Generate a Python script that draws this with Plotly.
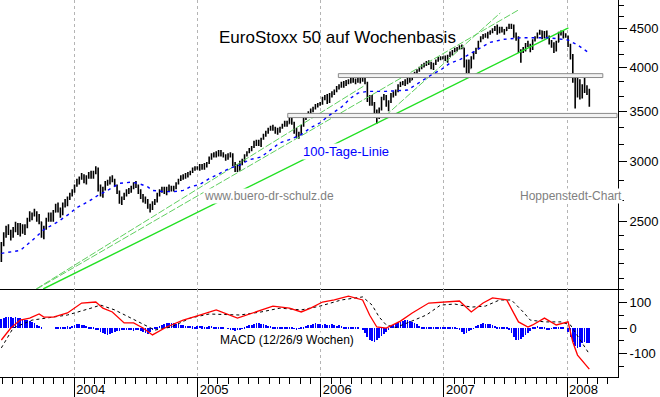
import math
import pandas as pd
import plotly.graph_objects as go
from plotly.subplots import make_subplots

# ---------------- DATA ----------------
week_start = "2003-05-30"          # first weekly bar (Friday)
first_open = 2280

close_2003 = [2330, 2400, 2440, 2420, 2390, 2440, 2480, 2420, 2470, 2440, 2460, 2510, 2540, 2560, 2570, 2530,
              2500, 2400, 2450, 2520, 2550, 2530, 2575, 2620, 2590, 2560, 2630, 2650, 2680, 2710, 2740]
high_2003 = [2350, 2420, 2470, 2480, 2440, 2460, 2500, 2490, 2490, 2480, 2480, 2530, 2580, 2570, 2600, 2580,
             2560, 2500, 2470, 2530, 2570, 2570, 2590, 2640, 2650, 2610, 2650, 2680, 2700, 2730, 2760]
low_2003 = [2210, 2320, 2380, 2400, 2360, 2380, 2420, 2400, 2390, 2410, 2400, 2450, 2500, 2510, 2540, 2500,
            2480, 2380, 2370, 2440, 2500, 2500, 2500, 2570, 2570, 2530, 2550, 2610, 2620, 2670, 2700]

close_2004 = [2790, 2830, 2860, 2880, 2840, 2860, 2890, 2870, 2900, 2940, 2780, 2720, 2760, 2810, 2830, 2860,
              2840, 2790, 2740, 2660, 2680, 2720, 2750, 2740, 2770, 2800, 2790, 2740, 2700, 2690, 2670, 2620,
              2600, 2640, 2660, 2720, 2750, 2770, 2740, 2760, 2780, 2760, 2770, 2810, 2840, 2870, 2860, 2880,
              2890, 2910, 2940, 2950, 2950]
high_2004 = [2800, 2850, 2870, 2900, 2890, 2880, 2910, 2920, 2920, 2960, 2950, 2800, 2780, 2830, 2840, 2870,
             2880, 2850, 2800, 2750, 2700, 2730, 2760, 2770, 2790, 2820, 2830, 2800, 2760, 2720, 2700, 2680,
             2640, 2660, 2680, 2730, 2760, 2780, 2780, 2780, 2800, 2790, 2790, 2820, 2850, 2880, 2890, 2900,
             2910, 2920, 2950, 2960, 2960]
low_2004 = [2730, 2780, 2800, 2840, 2810, 2800, 2850, 2850, 2850, 2890, 2740, 2700, 2690, 2750, 2790, 2800,
            2820, 2780, 2720, 2640, 2630, 2670, 2700, 2720, 2730, 2760, 2770, 2720, 2680, 2650, 2640, 2600,
            2570, 2590, 2630, 2650, 2700, 2730, 2720, 2710, 2740, 2740, 2740, 2760, 2800, 2830, 2840, 2850,
            2860, 2880, 2900, 2920, 2930]

close_2005 = [2960, 2950, 2970, 2990, 3030, 3060, 3080, 3070, 3090, 3070, 3060, 3040, 3060, 3070, 2980, 2960,
              2930, 3000, 3010, 3060, 3090, 3110, 3140, 3180, 3170, 3200, 3220, 3260, 3280, 3320, 3330, 3330,
              3290, 3300, 3330, 3360, 3380, 3370, 3430, 3380, 3300, 3270, 3260, 3350, 3430, 3460, 3490, 3510,
              3540, 3560, 3580, 3580]
high_2005 = [2980, 2980, 2990, 3000, 3050, 3080, 3090, 3100, 3110, 3110, 3090, 3070, 3080, 3090, 3080, 3000,
             2980, 3010, 3030, 3070, 3100, 3130, 3150, 3200, 3210, 3210, 3230, 3270, 3300, 3330, 3350, 3360,
             3340, 3330, 3340, 3370, 3400, 3400, 3440, 3440, 3390, 3330, 3290, 3360, 3440, 3470, 3500, 3530,
             3550, 3580, 3590, 3600]
low_2005 = [2920, 2930, 2930, 2950, 2980, 3020, 3040, 3040, 3050, 3050, 3040, 3010, 3020, 3040, 2960, 2910,
            2910, 2920, 2970, 3000, 3050, 3080, 3100, 3130, 3150, 3150, 3140, 3210, 3240, 3270, 3300, 3300,
            3270, 3260, 3280, 3320, 3340, 3340, 3370, 3360, 3270, 3230, 3220, 3260, 3340, 3410, 3450, 3460,
            3490, 3520, 3540, 3560]

close_2006 = [3650, 3660, 3600, 3680, 3700, 3720, 3770, 3780, 3820, 3790, 3830, 3850, 3850, 3860, 3840, 3860,
              3840, 3880, 3820, 3640, 3650, 3580, 3470, 3450, 3520, 3650, 3660, 3580, 3600, 3680, 3700, 3720,
              3790, 3810, 3830, 3830, 3860, 3850, 3900, 3940, 3960, 4000, 4020, 4040, 4060, 4050, 4000, 4040,
              4080, 4110, 4120, 4120]
high_2006 = [3660, 3680, 3690, 3700, 3720, 3740, 3780, 3800, 3830, 3840, 3850, 3860, 3880, 3880, 3870, 3880,
             3880, 3900, 3900, 3830, 3680, 3680, 3600, 3520, 3540, 3660, 3690, 3680, 3620, 3700, 3720, 3740,
             3800, 3830, 3840, 3860, 3880, 3890, 3910, 3950, 3980, 4010, 4040, 4060, 4080, 4090, 4070, 4060,
             4100, 4130, 4140, 4140]
low_2006 = [3570, 3620, 3580, 3590, 3650, 3680, 3710, 3740, 3760, 3760, 3780, 3800, 3810, 3820, 3800, 3820,
            3810, 3830, 3800, 3600, 3560, 3560, 3430, 3370, 3420, 3510, 3620, 3550, 3500, 3590, 3650, 3670,
            3710, 3770, 3790, 3780, 3800, 3820, 3850, 3890, 3920, 3950, 3980, 4000, 4020, 4030, 3980, 3970,
            4030, 4070, 4090, 4100]

close_2007 = [4090, 4150, 4180, 4200, 4230, 4240, 4270, 4250, 4050, 4060, 3990, 4120, 4180, 4240, 4330, 4390,
              4410, 4420, 4440, 4470, 4490, 4520, 4450, 4510, 4470, 4480, 4520, 4550, 4540, 4400, 4370, 4200,
              4210, 4240, 4300, 4280, 4240, 4340, 4380, 4440, 4470, 4380, 4460, 4400, 4320, 4300, 4210, 4320,
              4440, 4460, 4420, 4400]
high_2007 = [4150, 4160, 4200, 4220, 4250, 4260, 4280, 4290, 4250, 4100, 4100, 4140, 4200, 4250, 4340, 4400,
             4430, 4440, 4460, 4480, 4510, 4540, 4560, 4530, 4530, 4500, 4530, 4570, 4570, 4560, 4450, 4400,
             4230, 4260, 4310, 4340, 4300, 4360, 4400, 4450, 4490, 4480, 4470, 4480, 4410, 4350, 4320, 4340,
             4460, 4480, 4470, 4440]
low_2007 = [4080, 4060, 4130, 4150, 4190, 4200, 4220, 4230, 4000, 3930, 3930, 3990, 4100, 4170, 4230, 4320,
            4360, 4380, 4370, 4420, 4440, 4470, 4420, 4440, 4450, 4420, 4470, 4500, 4500, 4380, 4340, 4180,
            4060, 4180, 4200, 4260, 4190, 4220, 4330, 4370, 4420, 4360, 4370, 4370, 4290, 4250, 4180, 4200,
            4320, 4410, 4370, 4380]

close_2008 = [4280, 4150, 3860, 3770, 3830, 3650, 3760, 3720, 3730, 3580]
high_2008 = [4410, 4300, 4170, 3900, 3900, 3860, 3800, 3880, 3790, 3750]
low_2008 = [4260, 4100, 3820, 3530, 3650, 3630, 3640, 3700, 3680, 3550]

# 100-Tage-Linie (read at selected weeks: week index -> value)
ma_week = [0, 8, 13, 18, 24, 28, 32, 37, 41, 45, 50, 55, 58, 62, 64, 69, 73, 77, 80, 84, 88, 93, 97, 101, 105,
           110, 114, 118, 122, 127, 131, 135, 139, 144, 148, 151, 155, 163, 172, 177, 182, 186, 190, 194, 199,
           203, 207, 213, 220, 232, 240, 244, 249]
ma_value = [2270, 2290, 2360, 2440, 2500, 2550, 2610, 2660, 2710, 2750, 2810, 2820, 2810, 2780, 2750, 2740, 2740,
            2750, 2780, 2800, 2850, 2900, 2945, 2970, 3020, 3045, 3110, 3180, 3210, 3260, 3330, 3380, 3460, 3545,
            3645, 3700, 3720, 3720, 3735, 3825, 3910, 3970, 4055, 4095, 4180, 4260, 4320, 4360, 4380, 4380, 4350,
            4285, 4180]

# MACD line (red) and signal line (black dashed), read at selected weeks
macd_week = [0, 4, 8, 12, 16, 18, 22, 28, 34, 40, 43, 47, 52, 56, 60, 64, 70, 77, 84, 91, 100, 104, 115, 122,
             127, 131, 136, 141, 147, 153, 156, 159, 163, 169, 174, 181, 187, 194, 199, 204, 208, 214, 219, 223,
             225, 230, 235, 240, 242, 244, 249]
macd_value = [-47, 0, 31, 39, 55, 43, 43, 59, 98, 102, 78, 63, 20, 20, 0, -27, 4, 31, 51, 71, 39, 51, 86, 78,
              63, 78, 102, 110, 125, 110, 50, 4, 0, 27, 59, 98, 102, 106, 63, 98, 118, 110, 24, 4, 12, 39, 12,
              24, -55, -106, -161]
signal_week = [0, 5, 13, 19, 28, 38, 42, 48, 55, 61, 65, 72, 80, 88, 101, 110, 118, 127, 135, 144, 153, 157,
               160, 163, 167, 173, 180, 186, 192, 199, 205, 211, 216, 221, 224, 230, 237, 241, 245, 249]
signal_value = [-78, 0, 31, 39, 51, 78, 90, 71, 39, 12, -8, 4, 39, 55, 51, 63, 78, 71, 86, 110, 122, 90, 43,
                12, 2, 24, 51, 90, 94, 82, 86, 110, 110, 63, 31, 24, 24, 12, -47, -102]

# MACD histogram (weekly)
hist_2003 = [35, 40, 42, 45, 44, 40, 42, 40, 38, 35, 32, 30, 28, 25, 20, 12, 8, 5, 0, 0, 0, 0, 0,
             3, 4, 5, 5, 6, 7, 6, 8]
hist_2004 = [10, 14, 15, 12, 10, 8, 6, 5, 3, -4, -8, -15, -20, -25, -28, -25, -20, -15, -12,
             -10, -8, -6, -8, -5, -7, -10, -6, -5, -10, -15, -18, -22, -15, -8, 3, 6, 8, 12,
             15, 18, 20, 18, 20, 15, 14, 12, 10, 8, 9, 8, 7, 6, 7]
hist_2005 = [8, 7, 6, 5, 7, 8, 6, 5, 4, 5, 3, 0, -2, -5, -8, -10, -6, -4, -2,
             5, 8, 10, 12, 15, 18, 20, 16, 14, 10, 8, 8, 6, 5, 5, 6, 4, 5, 4, 3, 2, -3, -5, -2,
             4, 6, 8, 10, 12, 15, 18, 16, 14]
hist_2006 = [12, 14, 10, 12, 14, 10, 8, 10, 8, 6, 5, 4, 6, 5, 4, 3, 0,
             -8, -20, -35, -45, -52, -55, -48, -40, -32, -25, -15, -5,
             8, 12, 18, 22, 25, 28, 30, 31, 28, 25, 20, 15, 8, 6, 5, 5, 6, 5, 4, 5, 6, 4, 5]
hist_2007 = [3, 2, 3, 4, 2, -3, -8, -15, -22, -18, -10, -6, -2, 8, 12, 15, 18, 17, 16, 15, 12, 8, 5,
             4, 3, 2, 1, -5, -20, -35, -45, -47, -42, -35, -28, -20, -10, 4, 6, 8, 6, 5,
             3, -4, -8, -3, 2, 3, 5, 2, 1, 0]
hist_2008 = [-15, -35, -55, -70, -78, -75, -60, -55, -58, -60]

# Trend lines (start date/value -> end date/value)
trend_start_date = ["2003-10-01", "2003-09-10", "2003-09-12", "2006-07-11"]
trend_start_value = [2036, 2036, 2036, 3451]
trend_end_date = ["2008-01-05", "2006-05-13", "2007-08-10", "2007-06-17"]
trend_end_value = [4514, 3792, 4768, 4725]

# Horizontal support/resistance zones
zone_start = ["2006-02-22", "2005-09-25"]
zone_end = ["2008-04-16", "2008-05-28"]
zone_low = [3880, 3434]
zone_high = [3926, 3478]

price_ticks = [2500, 3000, 3500, 4000, 4500]
price_minor = [2100, 2200, 2300, 2400, 2667, 2833, 3167, 3333, 3667, 3833, 4167, 4333, 4667, 4833]
macd_ticks = [-100, 0, 100]
macd_minor = [-150, -50, 50, 150]

# ---------------- BUILD ----------------
close = close_2003 + close_2004 + close_2005 + close_2006 + close_2007 + close_2008
high = high_2003 + high_2004 + high_2005 + high_2006 + high_2007 + high_2008
low = low_2003 + low_2004 + low_2005 + low_2006 + low_2007 + low_2008
hist = hist_2003 + hist_2004 + hist_2005 + hist_2006 + hist_2007 + hist_2008
opens = [first_open] + close[:-1]
dates = pd.date_range(week_start, periods=len(close), freq="W-FRI")

FONT = "Arial, Liberation Sans, sans-serif"
W, H = 660, 397
ML, MR, MT, MB = 0, 42, 0, 20
PW, PH = W - ML - MR, H - MT - MB
split = 289  # pixel y of panel divider

fig = make_subplots(rows=2, cols=1, shared_xaxes=True, vertical_spacing=0,
                    row_heights=[split / PH, (PH - split) / PH])

thin_green = "#5fcf5f"
for k in range(len(trend_start_date)):
    bright = (k == 0)
    fig.add_trace(go.Scatter(
        x=[trend_start_date[k], trend_end_date[k]], y=[trend_start_value[k], trend_end_value[k]],
        mode="lines",
        line=dict(color="#22e022" if bright else thin_green, width=1.4 if bright else 1,
                  dash="solid" if bright else "7px,2px"),
        hoverinfo="skip"), row=1, col=1)

for k in range(len(zone_start)):
    fig.add_trace(go.Scatter(
        x=[zone_start[k], zone_end[k], zone_end[k], zone_start[k], zone_start[k]],
        y=[zone_low[k], zone_low[k], zone_high[k], zone_high[k], zone_low[k]],
        mode="lines", fill="toself", fillcolor="#f2f2f2",
        line=dict(color="#8a8a8a", width=1), hoverinfo="skip"), row=1, col=1)

fig.add_trace(go.Ohlc(x=dates, open=opens, high=high, low=low, close=close,
                      increasing=dict(line=dict(color="black", width=1.6)),
                      decreasing=dict(line=dict(color="black", width=1.6)),
                      hoverinfo="skip"), row=1, col=1)

fig.add_trace(go.Scatter(x=[dates[i] for i in ma_week], y=ma_value, mode="lines",
                         line=dict(color="#0000ff", width=1.4, dash="3px,4px"),
                         hoverinfo="skip"), row=1, col=1)

fig.add_trace(go.Bar(x=dates, y=hist, marker=dict(color="#0000ff", line=dict(width=0)),
                     width=2.2 * 86400000, hoverinfo="skip"), row=2, col=1)
fig.add_trace(go.Scatter(x=[dates[i] for i in signal_week], y=signal_value, mode="lines",
                         line=dict(color="black", width=1, dash="3px,3px"), hoverinfo="skip"), row=2, col=1)
fig.add_trace(go.Scatter(x=[dates[i] for i in macd_week], y=macd_value, mode="lines",
                         line=dict(color="#ff0000", width=1.3), hoverinfo="skip"), row=2, col=1)

xrange = ["2003-05-26", "2008-05-31"]
common_x = dict(type="date", range=xrange, showgrid=True, gridcolor="#b4b4b4", griddash="3px,3px",
                gridwidth=1, dtick="M12", tick0="2004-01-01", zeroline=False)
fig.update_xaxes(row=1, col=1, showticklabels=False, ticks="", showline=True, linecolor="black",
                 linewidth=1, rangeslider=dict(visible=False), **common_x)
fig.update_xaxes(row=2, col=1, showticklabels=True, ticks="outside", ticklen=20, tickcolor="black",
                 tickwidth=1, tickformat="%Y", ticklabelposition="outside right", ticklabelstandoff=0,
                 ticklabelshift=1,
                 showline=True, linecolor="black", linewidth=1,
                 tickfont=dict(family=FONT, size=13, color="black"),
                 minor=dict(ticks="outside", ticklen=6, dtick="M1", tick0="2004-01-01",
                            tickcolor="black", showgrid=False),
                 rangeslider=dict(visible=False), **common_x)

fig.update_yaxes(row=1, col=1, type="log", range=[math.log10(2036), math.log10(4915)], side="right",
                 tickvals=price_ticks, ticktext=[str(v) for v in price_ticks], ticks="outside", ticklen=8,
                 tickcolor="black", showline=True, linecolor="black", linewidth=1, showgrid=False,
                 zeroline=False, tickfont=dict(family=FONT, size=13, color="black"),
                 minor=dict(tickvals=price_minor, ticks="outside", ticklen=5, tickcolor="black",
                            showgrid=False))
fig.update_yaxes(row=2, col=1, range=[-192, 153], side="right",
                 tickvals=macd_ticks, ticktext=[str(v) for v in macd_ticks], ticks="outside", ticklen=8,
                 tickcolor="black", showline=True, linecolor="black", linewidth=1, showgrid=False,
                 zeroline=False, tickfont=dict(family=FONT, size=13, color="black"),
                 minor=dict(tickvals=macd_minor, ticks="outside", ticklen=5, tickcolor="black",
                            showgrid=False))


def px_x(px):
    return (px - ML) / PW


def px_y(py):
    return 1 - (py - MT) / PH


annotations = [
    dict(text="EuroStoxx 50 auf Wochenbasis", x=px_x(218), y=px_y(37), size=17, color="black", bg=None),
    dict(text="100-Tage-Linie", x=px_x(302), y=px_y(151), size=13, color="#0000ff", bg="white"),
    dict(text="www.buero-dr-schulz.de", x=px_x(203), y=px_y(196), size=12, color="#7f7f7f", bg="white"),
    dict(text="Hoppenstedt-Chart", x=px_x(519), y=px_y(196), size=12, color="#7f7f7f", bg="white"),
    dict(text="MACD (12/26/9 Wochen)", x=px_x(219), y=px_y(340), size=12, color="black", bg="white"),
]
for a in annotations:
    fig.add_annotation(text=a["text"], x=a["x"], y=a["y"], xref="paper", yref="paper",
                       xanchor="left", yanchor="middle", showarrow=False,
                       font=dict(family=FONT, size=a["size"], color=a["color"]),
                       bgcolor=a["bg"] if a["bg"] else "rgba(0,0,0,0)", borderpad=0)

fig.update_layout(width=W, height=H, margin=dict(l=ML, r=MR, t=MT, b=MB),
                  paper_bgcolor="white", plot_bgcolor="white", showlegend=False,
                  font=dict(family=FONT, color="black"), bargap=0)

fig.write_html("out.html", config={"displayModeBar": False},
               post_script="document.body.style.margin='0';document.body.style.padding='0';")
